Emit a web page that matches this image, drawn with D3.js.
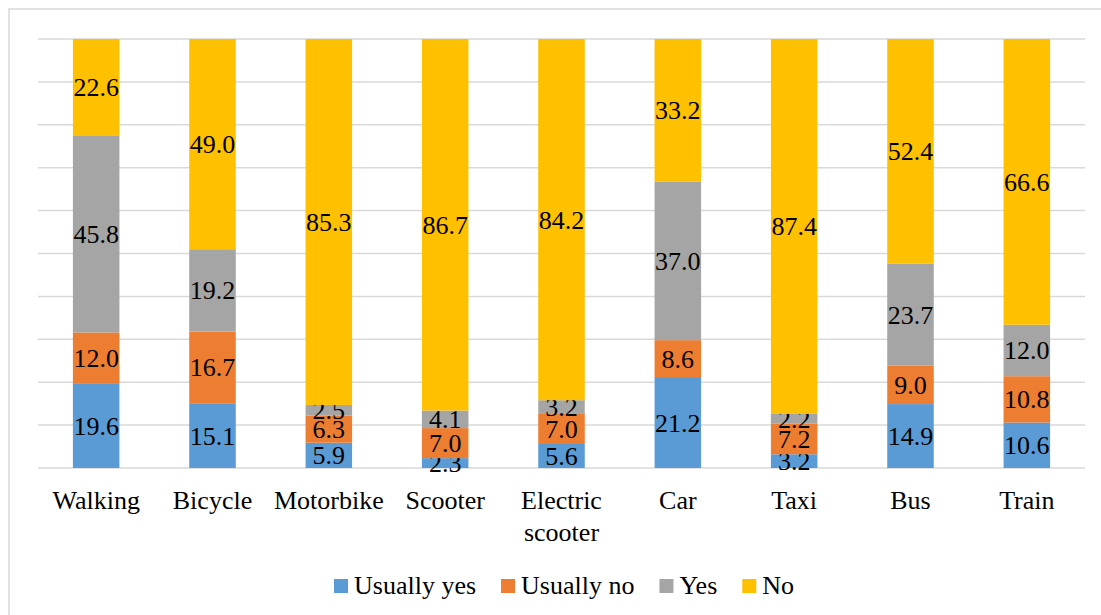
<!DOCTYPE html>
<html>
<head>
<meta charset="utf-8">
<script src="https://cdn.jsdelivr.net/npm/d3@7"></script>
<style>
  body { margin: 0; background: #fff; }
</style>
</head>
<body>
<div class="chart"></div>
<script>
const width = 1101;
const height = 615;
const serif = "'Liberation Serif', 'Times New Roman', 'DejaVu Serif', serif";

// data
const modes = ["Walking", "Bicycle", "Motorbike", "Scooter", "Electric scooter", "Car", "Taxi", "Bus", "Train"];
const seriesNames = ["Usually yes", "Usually no", "Yes", "No"];
const usuallyYes = [19.6, 15.1, 5.9, 2.3, 5.6, 21.2, 3.2, 14.9, 10.6];
const usuallyNo = [12.0, 16.7, 6.3, 7.0, 7.0, 8.6, 7.2, 9.0, 10.8];
const yes = [45.8, 19.2, 2.5, 4.1, 3.2, 37.0, 2.2, 23.7, 12.0];
const no = [22.6, 49.0, 85.3, 86.7, 84.2, 33.2, 87.4, 52.4, 66.6];
const yTicks = [0, 10, 20, 30, 40, 50, 60, 70, 80, 90, 100];
const colors = ["#5b9bd5", "#ed7d31", "#a5a5a5", "#ffc000"];

var rows = modes.map((m, i) => {
  return { mode: m, "Usually yes": usuallyYes[i], "Usually no": usuallyNo[i], Yes: yes[i], No: no[i] };
});

var svg = d3
  .select(".chart")
  .append("svg")
  .attr("width", width)
  .attr("height", height)
  .attr("font-family", serif);

// outer chart border
svg
  .append("rect")
  .attr("x", 9)
  .attr("y", 9)
  .attr("width", width + 20)
  .attr("height", height + 20)
  .attr("fill", "none")
  .attr("stroke", "#d9d9d9")
  .attr("stroke-width", 1.5);

let xScale = d3.scaleBand().domain(modes).range([38, 1085]).paddingInner(0.6).paddingOuter(0.3);
let yScale = d3.scaleLinear().domain([0, 100]).range([468, 39]);
let color = d3.scaleOrdinal().domain(seriesNames).range(colors);

// gridlines
svg
  .append("g")
  .selectAll("line")
  .data(yTicks)
  .enter()
  .append("line")
  .attr("x1", 38)
  .attr("x2", 1085)
  .attr("y1", (d) => yScale(d))
  .attr("y2", (d) => yScale(d))
  .attr("stroke", "#d9d9d9")
  .attr("stroke-width", 1.5);

let stacked = d3.stack().keys(seriesNames)(rows);

let layers = svg
  .append("g")
  .selectAll("g")
  .data(stacked)
  .enter()
  .append("g")
  .attr("fill", (d) => color(d.key));

layers
  .selectAll("rect")
  .data((d) => d)
  .enter()
  .append("rect")
  .attr("x", (d) => xScale(d.data.mode))
  .attr("y", (d) => yScale(Math.min(d[1], 100)))
  .attr("width", xScale.bandwidth())
  .attr("height", (d) => yScale(d[0]) - yScale(Math.min(d[1], 100)));

// data labels
layers
  .selectAll("text")
  .data((d) => d.map((v) => ({ key: d.key, v: v })))
  .enter()
  .append("text")
  .attr("x", (d) => xScale(d.v.data.mode) + xScale.bandwidth() / 2)
  .attr("y", (d) => (yScale(d.v[0]) + yScale(Math.min(d.v[1], 100))) / 2 + 9)
  .attr("text-anchor", "middle")
  .attr("fill", "#000")
  .attr("font-size", 26)
  .text((d) => d.v.data[d.key].toFixed(1));

// category labels
let xAxis = svg.append("g");
modes.forEach((m) => {
  let words = m === "Electric scooter" ? ["Electric", "scooter"] : [m];
  let t = xAxis
    .append("text")
    .attr("text-anchor", "middle")
    .attr("font-size", 26)
    .attr("fill", "#000")
    .attr("x", xScale(m) + xScale.bandwidth() / 2)
    .attr("y", 509);
  words.forEach((w, i) => {
    t.append("tspan")
      .attr("x", xScale(m) + xScale.bandwidth() / 2)
      .attr("dy", i === 0 ? 0 : 32)
      .text(w);
  });
});

// legend
let legend = svg.append("g");
let lx = 334;
seriesNames.forEach((s) => {
  legend
    .append("rect")
    .attr("x", lx)
    .attr("y", 579)
    .attr("width", 14)
    .attr("height", 14)
    .attr("fill", color(s));
  let t = legend
    .append("text")
    .attr("x", lx + 20)
    .attr("y", 594)
    .attr("font-size", 26)
    .attr("fill", "#000")
    .text(s);
  lx += 20 + t.node().getComputedTextLength() + 25;
});
</script>
</body>
</html>
